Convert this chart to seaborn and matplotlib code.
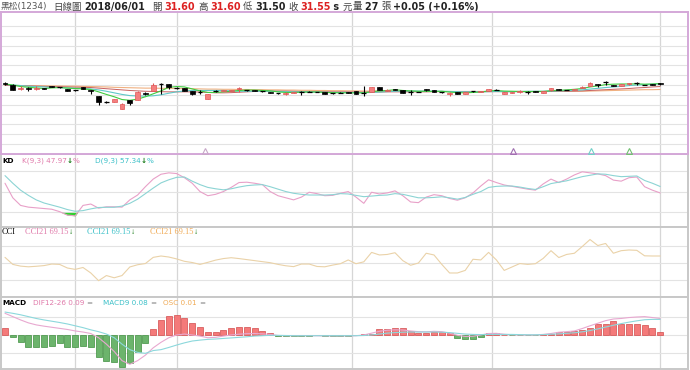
import numpy as np
import matplotlib
matplotlib.use("Agg")
import matplotlib.pyplot as plt
import seaborn as sns

sns.set_theme(style="white")
plt.rcParams["font.family"] = ["DejaVu Sans", "Noto Sans CJK TC"]

# ---- data ----
opens = [31.60, 31.50, 31.30, 31.35, 31.30, 31.35, 31.45, 31.40, 31.30, 31.25,
         31.40, 31.25, 30.95, 30.65, 30.65, 30.30, 30.75, 30.75, 31.10, 31.20,
         31.55, 31.55, 31.35, 31.35, 31.20, 31.15, 30.80, 31.20, 31.20, 31.20,
         31.30, 31.25, 31.25, 31.20, 31.15, 31.10, 31.05, 31.10, 31.15, 31.15,
         31.15, 31.15, 31.10, 31.10, 31.15, 31.20, 31.10, 31.15, 31.40, 31.20,
         31.30, 31.25, 31.15, 31.15, 31.30, 31.25, 31.15, 31.05, 31.15, 31.05,
         31.20, 31.15, 31.20, 31.25, 31.05, 31.10, 31.15, 31.15, 31.20, 31.10,
         31.25, 31.30, 31.25, 31.25, 31.35, 31.45, 31.55, 31.65, 31.50, 31.45,
         31.55, 31.60, 31.50, 31.55, 31.60]
highs = [31.65, 31.55, 31.45, 31.40, 31.45, 31.35, 31.45, 31.40, 31.30, 31.25,
         31.40, 31.25, 30.95, 30.70, 30.80, 30.60, 30.75, 31.20, 31.15, 31.60,
         31.60, 31.55, 31.40, 31.35, 31.20, 31.25, 31.05, 31.25, 31.25, 31.25,
         31.40, 31.25, 31.25, 31.20, 31.15, 31.10, 31.15, 31.15, 31.20, 31.20,
         31.15, 31.15, 31.10, 31.15, 31.15, 31.20, 31.45, 31.40, 31.40, 31.30,
         31.30, 31.25, 31.25, 31.15, 31.30, 31.25, 31.15, 31.15, 31.15, 31.15,
         31.20, 31.20, 31.30, 31.30, 31.15, 31.15, 31.25, 31.20, 31.20, 31.20,
         31.35, 31.30, 31.25, 31.30, 31.45, 31.65, 31.55, 31.70, 31.50, 31.55,
         31.60, 31.65, 31.50, 31.55, 31.60]
lows = [31.50, 31.25, 31.25, 31.20, 31.25, 31.30, 31.40, 31.35, 31.20, 31.20,
        31.30, 31.05, 30.50, 30.60, 30.65, 30.30, 30.50, 30.75, 31.00, 31.20,
        31.05, 31.30, 31.30, 31.20, 31.00, 31.05, 30.80, 31.15, 31.20, 31.20,
        31.15, 31.20, 31.20, 31.15, 31.10, 31.05, 31.00, 31.10, 31.00, 31.15,
        31.15, 31.05, 31.05, 31.10, 31.10, 31.05, 30.95, 31.15, 31.25, 31.20,
        31.25, 31.10, 31.00, 31.15, 31.20, 31.15, 31.10, 30.95, 31.05, 31.05,
        31.15, 31.15, 31.20, 31.25, 31.05, 31.10, 31.10, 31.05, 31.15, 31.10,
        31.20, 31.25, 31.25, 31.25, 31.35, 31.45, 31.40, 31.50, 31.45, 31.45,
        31.50, 31.50, 31.50, 31.50, 31.50]
closes = [31.55, 31.25, 31.35, 31.30, 31.35, 31.30, 31.40, 31.40, 31.20, 31.25,
          31.30, 31.20, 30.65, 30.65, 30.80, 30.55, 30.60, 31.15, 31.05, 31.50,
          31.55, 31.40, 31.35, 31.20, 31.05, 31.15, 31.05, 31.20, 31.25, 31.25,
          31.35, 31.25, 31.20, 31.20, 31.10, 31.10, 31.10, 31.15, 31.15, 31.15,
          31.15, 31.05, 31.10, 31.10, 31.10, 31.05, 31.10, 31.40, 31.25, 31.25,
          31.25, 31.10, 31.15, 31.15, 31.25, 31.15, 31.15, 31.10, 31.05, 31.15,
          31.20, 31.20, 31.30, 31.25, 31.15, 31.15, 31.20, 31.15, 31.15, 31.20,
          31.35, 31.25, 31.25, 31.30, 31.40, 31.60, 31.50, 31.65, 31.45, 31.55,
          31.60, 31.60, 31.50, 31.50, 31.55]

sma5 = [31.55, 31.50, 31.42, 31.38, 31.35, 31.32, 31.35, 31.37, 31.34, 31.32,
        31.30, 31.27, 31.15, 31.02, 30.90, 30.76, 30.72, 30.78, 30.90, 31.05,
        31.20, 31.38, 31.42, 31.40, 31.30, 31.20, 31.12, 31.12, 31.15, 31.18,
        31.22, 31.24, 31.24, 31.22, 31.20, 31.15, 31.12, 31.12, 31.13, 31.14,
        31.14, 31.12, 31.11, 31.10, 31.10, 31.10, 31.10, 31.16, 31.20, 31.22,
        31.26, 31.22, 31.20, 31.18, 31.18, 31.17, 31.18, 31.14, 31.11, 31.10,
        31.12, 31.14, 31.20, 31.22, 31.19, 31.18, 31.17, 31.16, 31.17, 31.17,
        31.21, 31.23, 31.25, 31.28, 31.32, 31.40, 31.45, 31.52, 31.54, 31.55,
        31.55, 31.56, 31.54, 31.55, 31.57]
sma10 = [31.52, 31.50, 31.47, 31.44, 31.42, 31.40, 31.38, 31.37, 31.35, 31.33,
         31.32, 31.30, 31.25, 31.18, 31.10, 31.02, 30.96, 30.94, 30.93, 30.95,
         31.00, 31.08, 31.15, 31.20, 31.22, 31.22, 31.22, 31.22, 31.22, 31.20,
         31.18, 31.18, 31.18, 31.18, 31.18, 31.17, 31.16, 31.15, 31.15, 31.15,
         31.14, 31.13, 31.12, 31.12, 31.12, 31.11, 31.11, 31.12, 31.14, 31.16,
         31.18, 31.19, 31.19, 31.19, 31.19, 31.19, 31.18, 31.17, 31.16, 31.15,
         31.15, 31.15, 31.16, 31.17, 31.16, 31.16, 31.17, 31.18, 31.18, 31.18,
         31.19, 31.20, 31.21, 31.22, 31.25, 31.29, 31.33, 31.37, 31.40, 31.43,
         31.47, 31.50, 31.52, 31.54, 31.56]
sma20 = [31.48, 31.47, 31.46, 31.45, 31.44, 31.43, 31.42, 31.41, 31.40, 31.39,
         31.38, 31.37, 31.34, 31.31, 31.28, 31.25, 31.22, 31.20, 31.18, 31.17,
         31.16, 31.15, 31.15, 31.15, 31.15, 31.14, 31.12, 31.10, 31.10, 31.11,
         31.13, 31.15, 31.17, 31.18, 31.19, 31.19, 31.19, 31.18, 31.17, 31.17,
         31.16, 31.16, 31.15, 31.15, 31.15, 31.14, 31.14, 31.14, 31.14, 31.15,
         31.15, 31.15, 31.15, 31.15, 31.15, 31.16, 31.16, 31.16, 31.16, 31.16,
         31.16, 31.16, 31.16, 31.16, 31.16, 31.16, 31.16, 31.16, 31.16, 31.17,
         31.17, 31.18, 31.18, 31.19, 31.20, 31.22, 31.24, 31.26, 31.28, 31.30,
         31.32, 31.35, 31.37, 31.40, 31.42]
sma60 = [31.48, 31.48, 31.47, 31.47, 31.46, 31.46, 31.45, 31.45, 31.44, 31.44,
         31.43, 31.42, 31.41, 31.40, 31.38, 31.37, 31.36, 31.35, 31.34, 31.34,
         31.33, 31.33, 31.32, 31.32, 31.31, 31.30, 31.29, 31.29, 31.28, 31.28,
         31.27, 31.27, 31.26, 31.26, 31.25, 31.25, 31.24, 31.24, 31.23, 31.23,
         31.22, 31.22, 31.21, 31.21, 31.20, 31.20, 31.19, 31.19, 31.19, 31.18,
         31.18, 31.18, 31.17, 31.17, 31.17, 31.17, 31.17, 31.17, 31.17, 31.17,
         31.17, 31.17, 31.17, 31.17, 31.17, 31.17, 31.17, 31.17, 31.17, 31.17,
         31.17, 31.17, 31.18, 31.18, 31.18, 31.19, 31.20, 31.21, 31.22, 31.23,
         31.24, 31.25, 31.26, 31.26, 31.27]

k_line = [62, 41, 30, 27.5, 26.5, 25.5, 24.5, 21, 16, 15,
          30, 32, 26, 28, 28, 27.5, 38, 45, 57, 68,
          75, 77, 76, 70, 62, 50, 44, 46, 50, 56,
          63, 63.5, 62, 60, 50, 44, 41, 38, 42, 49,
          47, 44, 44.5, 47.5, 50, 42, 33, 49, 46.5, 48,
          51, 44, 35, 34, 42, 45.5, 44, 40, 37.5, 41,
          48, 58, 67, 63, 59.5, 57.5, 55.5, 53.5, 52, 61,
          68, 63, 68, 74, 78.5, 77, 75.5, 73, 66.5, 65,
          70, 71, 57, 52, 48]
d_line = [73, 62, 52, 44.5, 38, 33.5, 30.5, 27.5, 24, 21.5,
          22.5, 25, 27, 27.3, 27.3, 29, 33, 39, 47, 55,
          62.5, 67, 70.5, 71, 65, 60, 56, 54, 52.5, 54,
          56.5, 58.5, 59.5, 60, 57, 53.5, 50, 47.5, 46, 45,
          45, 45, 45.5, 47, 46.5, 44.5, 42.6, 43.5, 44.5, 45,
          47, 46, 43.5, 41, 41, 41.5, 42.5, 41, 39, 41.5,
          46, 50, 56, 57.5, 58, 58, 56.5, 54.5, 53, 57,
          61.5, 63.5, 65.5, 68.5, 71.5, 73.5, 75.5, 75, 73, 71.5,
          72, 72.5, 66, 62, 57.3]

cci = [31, -10, -20, -24, -21, -17, -8, -10, -31, -39,
       -28, -60, -105, -75, -88, -75, -25, -12, -5, 31,
       39, 33, 22, 8, 1, -10, 2, 15, 24, 29,
       24, 18, 12, 6, 0, -10, -18, -23, -8, -8,
       -22, -24, -14, -6, 16, -6, 5, 60, 45, 48,
       58, 12, -15, -2, 55, 45, -10, -60, -60, -45,
       20, 16, 60, 16, -45, -25, -5, -10, -6, 25,
       70, 30, 48, 55, 94, 135, 100, 112, 55, 70,
       74, 72, 40, 39, 39]

dif = [0.118, 0.100, 0.082, 0.066, 0.055, 0.048, 0.042, 0.036, 0.030, 0.022,
       0.016, 0.008, -0.015, -0.050, -0.090, -0.140, -0.160, -0.140, -0.110, -0.070,
       -0.040, -0.015, 0.000, 0.005, 0.000, -0.006, -0.015, -0.013, -0.006, 0.000,
       0.004, 0.007, 0.008, 0.006, 0.003, -0.003, -0.004, -0.004, -0.004, -0.004,
       -0.004, -0.005, -0.005, -0.005, -0.005, -0.004, 0.000, 0.010, 0.020, 0.026,
       0.028, 0.027, 0.022, 0.018, 0.017, 0.020, 0.018, 0.010, -0.002, -0.008,
       -0.007, 0.000, 0.008, 0.009, 0.004, 0.001, 0.000, 0.000, 0.000, 0.003,
       0.008, 0.015, 0.018, 0.022, 0.035, 0.050, 0.064, 0.078, 0.087, 0.090,
       0.095, 0.098, 0.100, 0.095, 0.090]
macd9 = [0.125, 0.118, 0.110, 0.100, 0.090, 0.082, 0.075, 0.068, 0.060, 0.050,
         0.040, 0.028, 0.018, 0.005, -0.015, -0.050, -0.080, -0.095, -0.100, -0.085,
         -0.080, -0.068, -0.055, -0.043, -0.033, -0.028, -0.024, -0.022, -0.019, -0.016,
         -0.013, -0.010, -0.006, -0.004, -0.002, -0.002, -0.003, -0.004, -0.004, -0.004,
         -0.004, -0.004, -0.004, -0.004, -0.004, -0.004, -0.003, 0.000, 0.005, 0.010,
         0.013, 0.015, 0.016, 0.016, 0.016, 0.016, 0.015, 0.013, 0.009, 0.005,
         0.003, 0.002, 0.003, 0.003, 0.003, 0.003, 0.002, 0.001, 0.001, 0.002,
         0.004, 0.006, 0.009, 0.012, 0.017, 0.024, 0.033, 0.043, 0.053, 0.062,
         0.070, 0.077, 0.083, 0.085, 0.085]
osc = [0.036, -0.009, -0.036, -0.064, -0.064, -0.067, -0.058, -0.045, -0.064, -0.067,
       -0.058, -0.064, -0.118, -0.142, -0.145, -0.173, -0.155, -0.095, -0.045, 0.031,
       0.082, 0.105, 0.109, 0.095, 0.064, 0.045, 0.018, 0.018, 0.027, 0.036,
       0.045, 0.045, 0.036, 0.022, 0.013, -0.004, -0.005, -0.005, -0.004, -0.004,
       -0.002, -0.005, -0.007, -0.007, -0.005, -0.002, 0.005, 0.008, 0.031, 0.031,
       0.036, 0.036, 0.022, 0.012, 0.012, 0.014, 0.016, 0.009, -0.015, -0.024,
       -0.024, -0.013, 0.013, 0.013, 0.002, -0.002, -0.002, -0.002, -0.002, 0.003,
       0.005, 0.018, 0.016, 0.022, 0.027, 0.040, 0.058, 0.062, 0.075, 0.058,
       0.058, 0.058, 0.055, 0.036, 0.018]

month_starts = [9, 22, 44.5, 62.5, 84]          # Feb, Mar, Apr, May, Jun
signal_days = [25.6, 65.1, 75.1, 80]
signal_colors = ["#c8a8c8", "#a070b0", "#70d0c8", "#70c070"]

# ---- layout helpers ----
W, H = 690, 370
fig = plt.figure(figsize=(W / 100, H / 100), dpi=100)
fig.patch.set_facecolor("white")
idx = np.arange(len(closes))
XL = ((1 - 5) / 7.8, (688 - 5) / 7.8)

RED_FILL, RED_EDGE = "#f47f7f", "#e05555"
GRID = "#e3e3e3"
PINK, CYAN, ORANGE = "#e07aaa", "#3cc0c8", "#f0aa55"


def pax(x0, y0, x1, y1, border):
    ax = fig.add_axes([x0 / W, 1 - y1 / H, (x1 - x0) / W, (y1 - y0) / H])
    ax.set_xlim(*XL)
    ax.set_xticks([])
    ax.set_yticks([])
    ax.set_facecolor("white")
    for s in ax.spines.values():
        s.set_color(border)
        s.set_linewidth(1.4)
    for m in month_starts:
        ax.axvline(m, color="#d6d6d6", lw=0.9, zorder=0)
    return ax


def put_row(x, y, pieces, size, family=None):
    r = fig.canvas.get_renderer()
    for txt, col, wt in pieces:
        kw = {"family": family} if family else {}
        t = fig.text(x / W, 1 - y / H, txt, color=col, fontsize=size,
                     fontweight=wt, va="center", ha="left", **kw)
        x += t.get_window_extent(renderer=r).width
    return x


# ---- KD ----
ax_kd = pax(1, 154, 688, 227, "#c8c8c8")
ax_kd.set_ylim(-1.15, 104.2)
for g in (20, 50, 80):
    ax_kd.axhline(g, color=GRID, lw=0.8, zorder=0)
k_arr = np.array(k_line)
ax_kd.fill_between(idx, k_arr, 20, where=k_arr < 20, interpolate=True,
                   color="#2fd02f", lw=0, zorder=2)
sns.lineplot(x=idx, y=k_line, ax=ax_kd, color="#e8a0c8", lw=0.8, zorder=3)
sns.lineplot(x=idx, y=d_line, ax=ax_kd, color="#8cd4d4", lw=0.8, zorder=3)

# ---- CCI ----
ax_cci = pax(1, 227, 688, 297, "#c8c8c8")
ax_cci.set_ylim(-200, 208)
for g in (-100, 0, 100):
    ax_cci.axhline(g, color=GRID, lw=0.8, zorder=0)
sns.lineplot(x=idx, y=cci, ax=ax_cci, color="#ead2a8", lw=0.8, zorder=3)

# ---- MACD ----
ax_m = pax(1, 297, 688, 369, "#c8c8c8")
ax_m.set_ylim(-0.1855, 0.207)
for g in (-0.1, 0, 0.1):
    ax_m.axhline(g, color=GRID, lw=0.8, zorder=0)
osc_arr = np.array(osc)
pos = osc_arr >= 0
ax_m.bar(idx[pos], osc_arr[pos], width=0.78, color="#f47a7a",
         edgecolor="#d24c4c", lw=0.5, zorder=2)
ax_m.bar(idx[~pos], osc_arr[~pos], width=0.78, color="#6cb46c",
         edgecolor="#3f8f3f", lw=0.5, zorder=2)
sns.lineplot(x=idx, y=dif, ax=ax_m, color="#e8a8d0", lw=0.8, zorder=3)
sns.lineplot(x=idx, y=macd9, ax=ax_m, color="#8cd8dc", lw=0.8, zorder=3)

# ---- main price panel ----
ax = pax(1, 12, 688, 154, "#d4a8d8")
ax.set_zorder(5)
ax.set_ylim(27.989, 35.212)
for g in np.arange(28.5, 34.51, 0.5):
    ax.axhline(g, color=GRID, lw=0.8, zorder=0)

o, h, l, c = (np.array(v) for v in (opens, highs, lows, closes))
up, dn, eq = c > o, c < o, c == o
ax.vlines(idx, l, h, colors=np.where(up, RED_EDGE, "black"), lw=0.8, zorder=3)
ax.bar(idx[up], (c - o)[up], bottom=o[up], width=0.62, color=RED_FILL,
       edgecolor=RED_EDGE, lw=0.5, zorder=4)
ax.bar(idx[dn], (o - c)[dn], bottom=c[dn], width=0.62, color="black",
       edgecolor="black", lw=0.5, zorder=4)
ax.hlines(o[eq], idx[eq] - 0.31, idx[eq] + 0.31, colors="black", lw=0.9, zorder=4)

sns.lineplot(x=idx, y=sma60, ax=ax, color="#f0b080", lw=0.8, zorder=2)
sns.lineplot(x=idx, y=sma20, ax=ax, color="#c86060", lw=0.7, zorder=2)
sns.lineplot(x=idx, y=sma10, ax=ax, color="#60c8c8", lw=0.8, zorder=2)
sns.lineplot(x=idx, y=sma5, ax=ax, color="#40cc40", lw=0.8, zorder=2)

for d, col in zip(signal_days, signal_colors):
    ax.plot(d, 0.022, marker="^", ms=4, mfc="none", mec=col, mew=0.8,
            transform=ax.get_xaxis_transform(), zorder=5)

# ---- header and panel labels ----
HDR = 6.8
NUM = 6.9
put_row(1, 7, [("黑松(1234)", "#555555", "normal")], 6.3)
put_row(53, 7, [("日線圖", "#444444", "normal")], HDR)
put_row(84, 7, [("2018/06/01", "#222222", "bold")], NUM)
for x0, lab, val, col in [(152, "開", "31.60", "#dd2222"),
                          (198, "高", "31.60", "#dd2222"),
                          (243, "低", "31.50", "#222222")]:
    put_row(x0, 7, [(lab, "#444444", "normal")], HDR)
    put_row(x0 + 12, 7, [(val, col, "bold")], NUM)
put_row(288, 7, [("收", "#444444", "normal")], HDR)
x = put_row(300, 7, [("31.55", "#dd2222", "bold"), (" s ", "#222222", "bold")], NUM)
put_row(x, 7, [("元", "#444444", "normal")], HDR)
put_row(353, 7, [("量", "#444444", "normal")], HDR)
x = put_row(365, 7, [("27 ", "#222222", "bold")], NUM)
put_row(x, 7, [("張", "#444444", "normal")], HDR)
put_row(393, 7, [("+0.05 (+0.16%)", "#222222", "bold")], NUM)

LBL = 5.2
UPC, DNC = "#cc1111", "#117711"
put_row(2, 17, [("SMA5 31.57 ", "#22cc22", "normal"), ("=", "#888888", "normal")], LBL)
put_row(61, 17, [("SMA10 31.56 ", "#22b8c8", "normal"), ("↑", UPC, "bold")], LBL)
put_row(127, 17, [("SMA20 31.42 ", "#cc2222", "normal"), ("↑", UPC, "bold")], LBL)
put_row(192, 17, [("SMA60 31.27 ", "#ee7a33", "normal"), ("↑", UPC, "bold")], LBL)

put_row(2, 161, [("KD", "black", "bold")], LBL)
put_row(22, 161, [("K(9,3) 47.97", PINK, "normal"), ("↓", DNC, "bold"), ("%", PINK, "normal")], LBL)
put_row(95, 161, [("D(9,3) 57.34", CYAN, "normal"), ("↓", DNC, "bold"), ("%", CYAN, "normal")], LBL)

SER = "Liberation Serif"
put_row(2, 232, [("CCI", "black", "normal")], 6, SER)
put_row(25, 232, [("CCI21 69.15", PINK, "normal"), ("↓", DNC, "bold")], 6, SER)
put_row(87, 232, [("CCI21 69.15", CYAN, "normal"), ("↓", DNC, "bold")], 6, SER)
put_row(150, 232, [("CCI21 69.15", ORANGE, "normal"), ("↓", DNC, "bold")], 6, SER)

put_row(2, 303, [("MACD", "black", "bold")], LBL)
put_row(33, 303, [("DIF12-26 0.09 ", PINK, "normal"), ("=", "#888888", "normal")], LBL)
put_row(103, 303, [("MACD9 0.08 ", CYAN, "normal"), ("=", "#888888", "normal")], LBL)
put_row(163, 303, [("OSC 0.01 ", ORANGE, "normal"), ("=", "#888888", "normal")], LBL)

fig.savefig("out.png", dpi=100)
